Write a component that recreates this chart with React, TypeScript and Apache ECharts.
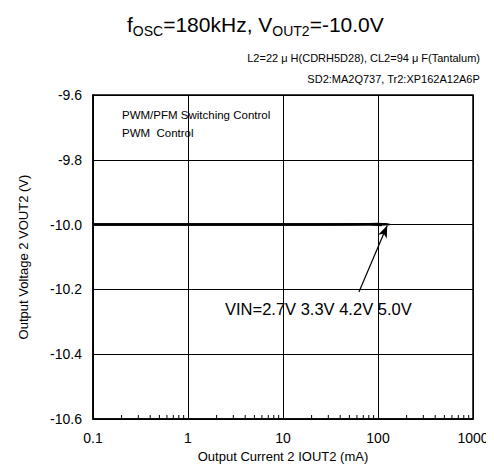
import React, { useEffect, useRef } from "react";
import * as echarts from "echarts";

const FONT = "Liberation Sans, Arial, sans-serif";

// X values (mA) and Y values (V) for each VIN curve
const xCurrents = [0.1, 0.2, 0.5, 1, 2, 5, 10, 20, 50, 80, 100];
const vin27 = [-10.0, -10.0, -10.0, -10.0, -10.0, -10.0, -10.0, -10.0, -10.0, -10.0, -10.001];
const vin33 = [-10.0, -10.0, -10.0, -10.0, -10.0, -10.0, -10.0, -10.0, -10.0, -9.999, -9.999];
const vin42 = [-10.0, -10.0, -10.0, -10.0, -10.0, -10.0, -10.0, -10.0, -9.999, -9.999, -9.998];
const vin50 = [-10.0, -10.0, -10.0, -10.0, -10.0, -10.0, -10.0, -10.0, -9.999, -9.998, -9.997];
const endX = [110, 118, 125, 132];
const endY = [-10.002, -10.0, -9.999, -10.0];
const seriesNames = ["VIN=2.7V", "3.3V", "4.2V", "5.0V"];
const seriesValues = [vin27, vin33, vin42, vin50];

const minorTicks = [0.2, 0.3, 0.4, 0.5, 0.6, 0.7, 0.8, 0.9, 2, 3, 4, 5, 6, 7, 8, 9, 20, 30, 40, 50, 60, 70, 80, 90, 200, 300, 400, 500, 600, 700, 800, 900];

const xMin = 0.1;
const xMax = 1000;
const yMin = -10.6;
const yMax = -9.6;
const yStep = 0.2;

// Arrow from annotation text to curve ends
const arrowFrom = [63, -10.208];
const arrowTo = [125, -10.003];

export default function App() {
  const ref = useRef<HTMLDivElement>(null);
  useEffect(() => {
    if (!ref.current) return;
    const chart = echarts.init(ref.current, null, { renderer: "svg" });
    const lineSeries = seriesValues.map((vals, i) => ({
      type: "line",
      name: seriesNames[i],
      data: [...xCurrents.map((x, j) => [x, vals[j]]), [endX[i], endY[i]]],
      showSymbol: false,
      symbol: "none",
      lineStyle: { color: "#000", width: 2 },
      z: 3,
    }));
    chart.setOption({
      animation: false,
      backgroundColor: "#fff",
      title: {
        text: "{n|f}{s|OSC}{n|=180kHz, V}{s|OUT2}{n|=-10.0V}",
        left: 122,
        top: 5,
        textStyle: {
          rich: {
            n: { fontSize: 21, fontFamily: FONT, color: "#000", fontWeight: "normal", lineHeight: 28 },
            s: { fontSize: 14, fontFamily: FONT, color: "#000", fontWeight: "normal", lineHeight: 15, verticalAlign: "bottom" },
          },
        },
      },
      grid: {
        left: 93,
        right: 21,
        top: 95,
        bottom: 48,
        show: true,
        borderColor: "#000",
        borderWidth: 1.5,
      },
      xAxis: {
        type: "log",
        logBase: 10,
        min: xMin,
        max: xMax,
        name: "Output Current 2 IOUT2 (mA)",
        nameLocation: "middle",
        nameGap: 31,
        nameTextStyle: { fontFamily: FONT, fontSize: 13, color: "#000" },
        axisLine: { show: true, lineStyle: { color: "#000", width: 1.5 } },
        axisTick: { show: false },
        splitLine: { show: true, lineStyle: { color: "#000", width: 1 } },
        axisLabel: {
          fontFamily: FONT,
          fontSize: 14,
          color: "#000",
          margin: 12,
          formatter: (v: number) => (v < 1 ? v.toFixed(1) : String(Math.round(v))),
        },
      },
      yAxis: {
        type: "value",
        min: yMin,
        max: yMax,
        interval: yStep,
        name: "Output Voltage 2 VOUT2 (V)",
        nameLocation: "middle",
        nameGap: 63,
        nameTextStyle: { fontFamily: FONT, fontSize: 13, color: "#000" },
        axisLine: { show: true, lineStyle: { color: "#000", width: 1.5 } },
        axisTick: { show: false },
        splitLine: { show: true, lineStyle: { color: "#000", width: 1 } },
        axisLabel: {
          fontFamily: FONT,
          fontSize: 14,
          color: "#000",
          margin: 11,
          formatter: (v: number) => v.toFixed(1),
        },
      },
      series: [
        ...lineSeries,
        {
          type: "custom",
          coordinateSystem: "cartesian2d",
          data: minorTicks.map((v) => [v, yMin]),
          silent: true,
          z: 4,
          renderItem: (params: any, api: any) => {
            const p = api.coord([api.value(0), api.value(1)]);
            return {
              type: "line",
              shape: { x1: p[0], y1: p[1], x2: p[0], y2: p[1] - 4 },
              style: { stroke: "#000", lineWidth: 1 },
            };
          },
        },
        {
          type: "line",
          data: [],
          markLine: {
            silent: true,
            symbol: ["none", "arrow"],
            symbolSize: [7, 12],
            label: { show: false },
            lineStyle: { color: "#000", width: 1.2, type: "solid" },
            data: [[{ coord: arrowFrom }, { coord: arrowTo }]],
          },
        },
      ],
      graphic: [
        {
          type: "text",
          right: 14,
          top: 52,
          style: {
            text: "L2=22 μ H(CDRH5D28), CL2=94 μ F(Tantalum)",
            font: `11px ${FONT}`,
            fill: "#000",
          },
        },
        {
          type: "text",
          right: 14,
          top: 73,
          style: {
            text: "SD2:MA2Q737, Tr2:XP162A12A6P",
            font: `11px ${FONT}`,
            fill: "#000",
          },
        },
        {
          type: "text",
          left: 122,
          top: 109,
          style: {
            text: "PWM/PFM Switching Control",
            font: `11.5px ${FONT}`,
            fill: "#000",
          },
        },
        {
          type: "text",
          left: 122,
          top: 127,
          style: {
            text: "PWM  Control",
            font: `11.5px ${FONT}`,
            fill: "#000",
          },
        },
        {
          type: "text",
          left: 225,
          top: 300,
          style: {
            text: "VIN=2.7V 3.3V 4.2V 5.0V",
            font: `16.5px ${FONT}`,
            fill: "#000",
          },
        },
      ],
    });
    return () => chart.dispose();
  }, []);
  return <div ref={ref} style={{ width: 494, height: 468, marginLeft: -8, marginTop: -8 }} />;
}
